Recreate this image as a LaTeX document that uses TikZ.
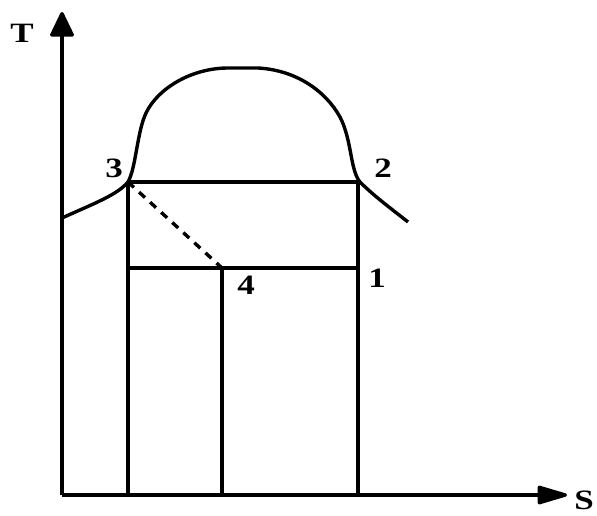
\documentclass[tikz,border=0pt]{standalone}
\usepackage{fontspec}
\setmainfont{Liberation Serif}
\usetikzlibrary{arrows.meta}
\tikzset{
  lbl/.style={font=\fontsize{28}{30}\selectfont\bfseries, inner sep=0pt, xscale=1.25},
  thick line/.style={line width=3.4pt},
}
\begin{document}
\begin{tikzpicture}[x=1pt,y=-1pt]
\useasboundingbox (0,0) rectangle (597,515);
% coordinates
\coordinate (O) at (62,495);
\coordinate (Ttip) at (62,12);
\coordinate (Stip) at (567,495);
\coordinate (p3) at (128,182);
\coordinate (p2) at (358,182);
\coordinate (p1) at (358,268);
\coordinate (p4) at (222,268);
\coordinate (b3) at (128,495);
\coordinate (b2) at (358,495);
\coordinate (b4) at (222,495);
\coordinate (q3) at (128,268);
\coordinate (L) at (62,218);
\coordinate (R) at (408,222);
% axes
\draw[thick line, -{Triangle[length=27pt,width=25pt,round]}] (O) -- (Ttip);
\draw[thick line, -{Triangle[length=34pt,width=19pt,round]}] (O) -- (Stip);
% dome
\draw[thick line, line join=round] (L) .. controls (95,203) and (117,195) .. (p3)
  .. controls (136,168) and (137,132) .. (146,113)
  .. controls (158,88) and (192,68) .. (228,68) -- (258,68)
  .. controls (295,70) and (325,90) .. (340,117)
  .. controls (352,140) and (350,170) .. (360,182)
  .. controls (375,197) and (393,210) .. (R);
% cycle lines
\draw[thick line] (p3) -- (p2);
\draw[thick line] (q3) -- (p1);
\draw[thick line] (p3) -- (b3);
\draw[thick line] (p2) -- (b2);
\draw[line width=4.8pt] (p4) -- (b4);
\draw[thick line, dash pattern=on 8pt off 7pt] (p3) -- (p4);
% labels
\node[lbl] (lT) at (22,33) {T};
\node[lbl] (lS) at (584,500) {S};
\node[lbl] (l3) at (114,168) {3};
\node[lbl] (l2) at (383,168) {2};
\node[lbl] (l1) at (377,278) {1};
\node[lbl] (l4) at (246,285) {4};
\end{tikzpicture}
\end{document}
